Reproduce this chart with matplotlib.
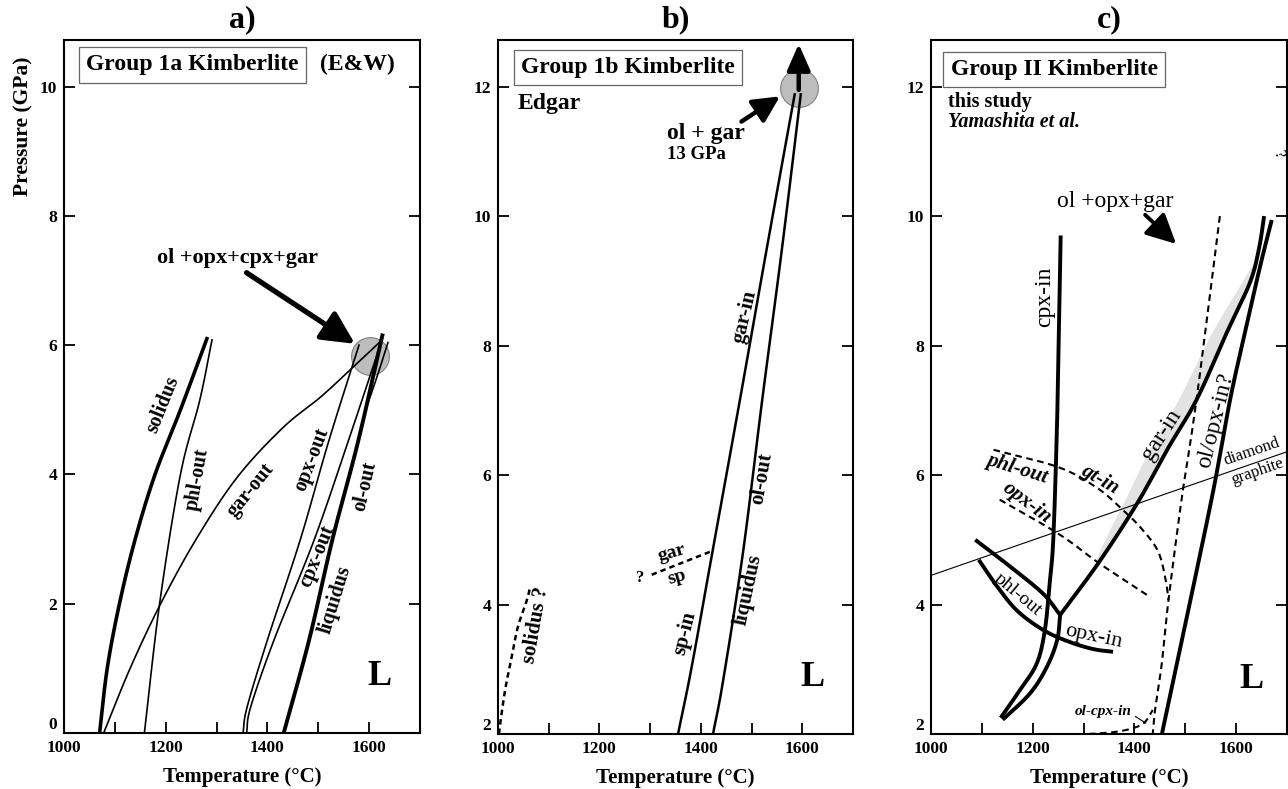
import matplotlib
matplotlib.use('Agg')
import matplotlib.pyplot as plt
import numpy as np
from matplotlib.ticker import FixedLocator

plt.rcParams['font.family'] = ['Liberation Serif', 'DejaVu Serif']
plt.rcParams['font.weight'] = 'bold'

# ---------------- Panel a data (Group 1a, E&W) ----------------
a_solidus_T = [1070, 1085, 1109, 1140, 1179, 1229, 1281]
a_solidus_P = [0, 1, 2, 3, 4, 5, 6.1]
a_phl_T = [1158, 1188, 1229, 1267, 1291]
a_phl_P = [0, 2, 4, 5.15, 6.08]
a_gar_T = [1078, 1130, 1190, 1260, 1340, 1430, 1505, 1567, 1620]
a_gar_P = [0, 1, 2, 3, 3.95, 4.72, 5.2, 5.65, 6.04]
a_opx_T = [1352, 1360, 1400, 1465, 1520, 1580]
a_opx_P = [0, 0.4, 1.44, 3.0, 4.5, 6.0]
a_cpx_T = [1359, 1367, 1413, 1492, 1560, 1626]
a_cpx_P = [0, 0.4, 1.44, 2.99, 4.54, 6.1]
a_liq_T = [1432, 1482, 1528, 1578, 1626]
a_liq_P = [0, 1.44, 3.0, 4.5, 6.15]
a_olout_T = [1593, 1615, 1637]
a_olout_P = [5.0, 5.5, 6.04]
a_circle = (1602, 5.83)

# ---------------- Panel b data (Group 1b, Edgar) ----------------
b_solidus_T = [1002, 1004, 1014, 1027, 1039, 1057, 1063]
b_solidus_P = [2.0, 2.14, 2.68, 3.19, 3.65, 4.07, 4.26]
b_spgar_T = [1355, 1382, 1423, 1477, 1530, 1585]
b_spgar_P = [2.0, 3.04, 4.82, 7.16, 9.5, 11.88]
b_liq_T = [1424, 1444, 1483, 1521, 1560, 1597]
b_liq_P = [2.0, 2.83, 4.8, 7.16, 9.5, 11.88]
b_garsp_T = [1303, 1423]
b_garsp_P = [4.46, 4.83]
b_circle = (1593, 11.98)

# ---------------- Panel c data (Group II, this study) ----------------
c_cpxin_T = [1255, 1249, 1241, 1234, 1224, 1208, 1175, 1137]
c_cpxin_P = [9.7, 7.16, 5.1, 4.38, 3.61, 3.09, 2.68, 2.25]
c_lens_T = [1141, 1195, 1228, 1248, 1254]
c_lens_P = [2.22, 2.63, 3.04, 3.45, 3.84]
c_garin_T = [1254, 1330, 1406, 1465, 1522, 1581, 1627, 1645, 1655]
c_garin_P = [3.84, 4.65, 5.57, 6.4, 7.16, 8.19, 8.97, 9.5, 10.0]
c_olopx_T = [1454, 1485, 1552, 1588, 1617, 1647, 1670]
c_olopx_P = [2.0, 3.14, 5.64, 7.16, 8.19, 9.22, 9.94]
c_phlout_T = [1087, 1155, 1220, 1254]
c_phlout_P = [5.0, 4.59, 4.17, 3.84]
c_opxin_T = [1094, 1130, 1170, 1222, 1273, 1320, 1358]
c_opxin_P = [4.69, 4.28, 3.9, 3.6, 3.42, 3.31, 3.27]
c_diagr_T = [1000, 1700]
c_diagr_P = [4.45, 6.36]
c_dphl_T = [1123, 1251, 1325, 1372, 1412, 1446, 1461, 1467]
c_dphl_P = [6.39, 6.12, 5.81, 5.5, 5.19, 4.83, 4.4, 4.07]
c_dopx_T = [1135, 1251, 1332, 1432]
c_dopx_P = [5.62, 5.09, 4.63, 4.11]
c_dmain_T = [1568, 1522, 1493, 1467, 1454, 1441, 1436]
c_dmain_P = [10.0, 7.16, 5.64, 4.07, 3.1, 2.4, 2.0]
c_dolcpx_T = [1310, 1360, 1397, 1420, 1436]
c_dolcpx_P = [2.0, 2.03, 2.09, 2.18, 2.37]

x_major = [1000, 1200, 1400, 1600]
x_minor = [1100, 1300, 1500]
a_yticks = [0, 2, 4, 6, 8, 10]
bc_yticks = [2, 4, 6, 8, 10, 12]


def smooth(T, P, n=24):
    """Catmull-Rom curve drawn through the read points."""
    pts = np.column_stack([T, P]).astype(float)
    if len(pts) < 3:
        return pts[:, 0], pts[:, 1]
    sc = np.array([700.0, 10.0])
    q = pts / sc
    ext = np.vstack([2 * q[0] - q[1], q, 2 * q[-1] - q[-2]])
    out = []
    t = np.linspace(0, 1, n, endpoint=False)[:, None]
    for i in range(1, len(ext) - 2):
        p0, p1, p2, p3 = ext[i - 1], ext[i], ext[i + 1], ext[i + 2]
        seg = 0.5 * ((2 * p1) + (-p0 + p2) * t + (2 * p0 - 5 * p1 + 4 * p2 - p3) * t ** 2
                     + (-p0 + 3 * p1 - 3 * p2 + p3) * t ** 3)
        out.append(seg)
    out.append(q[-1][None, :])
    out = np.vstack(out) * sc
    return out[:, 0], out[:, 1]


fig = plt.figure(figsize=(12.88, 7.89), dpi=100)
axa = fig.add_axes([64/1288, 1-733/789, 356/1288, 693/789])
axb = fig.add_axes([498/1288, 1-734/789, 355/1288, 694/789])
axc = fig.add_axes([931/1288, 1-734/789, 356/1288, 694/789])

for ax, yt, ylim, ttl, Lpos in [(axa, a_yticks, (0, 10.72), 'a)', (0.885, 0.082)),
                                (axb, bc_yticks, (2, 12.72), 'b)', (0.887, 0.082)),
                                (axc, bc_yticks, (2, 12.72), 'c)', (0.9, 0.078))]:
    ax.set_xlim(1000, 1700)
    ax.set_ylim(*ylim)
    ax.set_xticks(x_major)
    ax.xaxis.set_minor_locator(FixedLocator(x_minor))
    ax.set_yticks(yt)
    ax.tick_params(which='both', direction='in', length=8, width=1.3,
                   labelsize=12.5, right=True, top=False, pad=5)
    for lab_ in ax.get_xticklabels() + ax.get_yticklabels():
        lab_.set_fontweight('bold')
    # bottom pressure label sits just above the corner, as in the original
    ax.yaxis.get_major_ticks()[0].label1.set_verticalalignment('bottom')
    for s in ax.spines.values():
        s.set_linewidth(1.5)
    ax.set_xlabel('Temperature (°C)', fontsize=15, fontweight='bold', labelpad=8)
    ax.text(0.5, 1.008, ttl, transform=ax.transAxes, ha='center', va='bottom',
            fontsize=23, fontweight='bold')
    ax.text(Lpos[0], Lpos[1], 'L', transform=ax.transAxes,
            ha='center', va='center', fontsize=26, fontweight='bold')

axa.text(-0.115, 0.875, 'Pressure (GPa)', transform=axa.transAxes, rotation=90,
         ha='center', va='center', fontsize=15.5, fontweight='bold')

box = dict(boxstyle='square,pad=0.3', fc='white', ec='#666666', lw=0.9)


def lab(ax, T, P, s, rot, size=14.5, style='normal', weight='bold'):
    ax.text(T, P, s, rotation=rot, rotation_mode='anchor', ha='center',
            va='center', fontsize=size, fontstyle=style, fontweight=weight)


def arrow(ax, start, end, lw=3.5, hl=0.8, hw=0.4, ms=20):
    ax.annotate('', xy=end, xytext=start,
                arrowprops=dict(arrowstyle=f'-|>,head_length={hl},head_width={hw}',
                                lw=lw, color='black', mutation_scale=ms,
                                shrinkA=0, shrinkB=0))


def curve(ax, T, P, **kw):
    x, y = smooth(T, P)
    ax.plot(x, y, color='black', **kw)


# ---------------- Panel a ----------------
ax = axa
ax.scatter([a_circle[0]], [a_circle[1]], s=740, c='#bdbdbd', edgecolors='#808080',
           linewidths=0.8, zorder=1)
curve(ax, a_solidus_T, a_solidus_P, lw=2.6, zorder=3)
curve(ax, a_phl_T, a_phl_P, lw=1.2, zorder=3)
curve(ax, a_gar_T, a_gar_P, lw=1.2, zorder=3)
curve(ax, a_opx_T, a_opx_P, lw=1.2, zorder=3)
curve(ax, a_cpx_T, a_cpx_P, lw=1.2, zorder=3)
curve(ax, a_liq_T, a_liq_P, lw=2.8, zorder=3)
curve(ax, a_olout_T, a_olout_P, lw=1.2, zorder=3)
ax.text(0.062, 0.964, 'Group 1a Kimberlite', transform=ax.transAxes, ha='left',
        va='center', fontsize=17, fontweight='bold', bbox=box)
ax.text(0.825, 0.964, '(E&W)', transform=ax.transAxes, ha='center', va='center',
        fontsize=17, fontweight='bold')
ax.text(1341, 7.35, 'ol +opx+cpx+gar', ha='center', va='center', fontsize=16,
        fontweight='bold')
arrow(ax, (1359, 7.12), (1572, 6.02), lw=3.8, hl=0.9, hw=0.45, ms=22)
lab(ax, 1195, 5.08, 'solidus', 68)
lab(ax, 1262, 3.92, 'phl-out', 80)
lab(ax, 1367, 3.76, 'gar-out', 51)
lab(ax, 1488, 4.23, 'opx-out', 69)
lab(ax, 1498, 2.73, 'cpx-out', 68)
lab(ax, 1534, 2.06, 'liquidus', 73)
lab(ax, 1592, 3.81, 'ol-out', 77)

# ---------------- Panel b ----------------
ax = axb
ax.scatter([b_circle[0]], [b_circle[1]], s=740, c='#bdbdbd', edgecolors='#808080',
           linewidths=0.8, zorder=1)
curve(ax, b_solidus_T, b_solidus_P, lw=1.8, ls=(0, (2.2, 1.6)), zorder=3)
curve(ax, b_spgar_T, b_spgar_P, lw=1.8, zorder=3)
curve(ax, b_liq_T, b_liq_P, lw=1.8, zorder=3)
curve(ax, b_garsp_T, b_garsp_P, lw=1.8, ls=(0, (2.2, 1.6)), zorder=3)
ax.text(0.064, 0.96, 'Group 1b Kimberlite', transform=ax.transAxes, ha='left',
        va='center', fontsize=17, fontweight='bold', bbox=box)
ax.text(0.056, 0.909, 'Edgar', transform=ax.transAxes, ha='left', va='center',
        fontsize=17, fontweight='bold')
ax.text(1333, 11.27, 'ol + gar', ha='left', va='center', fontsize=17, fontweight='bold')
ax.text(1333, 10.95, '13 GPa', ha='left', va='center', fontsize=13.5, fontweight='bold')
arrow(ax, (1480, 11.46), (1556, 11.85), lw=3.2, hl=0.8, hw=0.4, ms=20)
arrow(ax, (1593, 11.95), (1593, 12.66), lw=3.2, hl=0.8, hw=0.35, ms=20)
lab(ax, 1487, 8.44, 'gar-in', 77, size=15)
lab(ax, 1369, 3.56, 'sp-in', 76, size=15)
lab(ax, 1520, 5.95, 'ol-out', 80, size=15)
lab(ax, 1494, 4.23, 'liquidus', 78, size=15)
lab(ax, 1075, 3.68, 'solidus ?', 80, size=15)
lab(ax, 1343, 4.79, 'gar', 16, size=14)
lab(ax, 1353, 4.42, 'sp', 16, size=14)
lab(ax, 1280, 4.41, '?', 0, size=12)

# ---------------- Panel c ----------------
ax = axc
Pband = np.linspace(4.6, 9.3, 60)
gx, gy = smooth(c_garin_T, c_garin_P)
Tband = np.interp(Pband, gy, gx)
wband = 36 * np.clip(np.sin(np.pi * (Pband - 4.6) / 4.7), 0, 1) ** 0.5
ax.fill_betweenx(Pband, Tband - wband, Tband, color='#e2e2e2', lw=0, zorder=1)
ax.plot(c_diagr_T, c_diagr_P, color='black', lw=0.8, zorder=2)
dash = (0, (3.2, 2.2))
curve(ax, c_dphl_T, c_dphl_P, lw=1.5, ls=dash, zorder=2)
curve(ax, c_dopx_T, c_dopx_P, lw=1.5, ls=dash, zorder=2)
curve(ax, c_dmain_T, c_dmain_P, lw=1.5, ls=dash, zorder=2)
curve(ax, c_dolcpx_T, c_dolcpx_P, lw=1.5, ls=dash, zorder=2)
for T, P in [(c_cpxin_T, c_cpxin_P), (c_lens_T, c_lens_P), (c_garin_T, c_garin_P),
             (c_olopx_T, c_olopx_P), (c_phlout_T, c_phlout_P), (c_opxin_T, c_opxin_P)]:
    curve(ax, T, P, lw=2.8, zorder=3, solid_capstyle='butt')
ax.text(0.055, 0.957, 'Group II Kimberlite', transform=ax.transAxes, ha='left',
        va='center', fontsize=17, fontweight='bold', bbox=box)
ax.text(0.048, 0.911, 'this study', transform=ax.transAxes, ha='left', va='center',
        fontsize=14.5, fontweight='bold')
ax.text(0.048, 0.882, 'Yamashita et al.', transform=ax.transAxes, ha='left',
        va='center', fontsize=14.5, fontweight='bold', fontstyle='italic')
ax.text(1248, 10.22, 'ol +opx+gar', ha='left', va='center', fontsize=17,
        fontweight='normal')
arrow(ax, (1421, 10.02), (1482, 9.57), lw=2.8, hl=0.9, hw=0.45, ms=20)
lab(ax, 1224, 8.76, 'cpx-in', 90, size=17, weight='normal')
lab(ax, 1454, 6.62, 'gar-in', 57, size=17, weight='normal')
lab(ax, 1560, 6.84, 'ol/opx-in?', 76, size=17, weight='normal')
lab(ax, 1170, 4.16, 'phl-out', -40, size=14, weight='normal')
lab(ax, 1319, 3.5, 'opx-in', -12, size=16, weight='normal')
lab(ax, 1169, 6.1, 'phl-out', -17, size=15, style='italic')
lab(ax, 1333, 5.93, 'gt-in', -30, size=15, style='italic')
lab(ax, 1188, 5.57, 'opx-in', -37, size=15, style='italic')
lab(ax, 1631, 6.36, 'diamond', 19, size=12, weight='normal')
lab(ax, 1641, 6.05, 'graphite', 19, size=12, weight='normal')
ax.text(1395, 2.34, 'ol-cpx-in', ha='right', va='center', fontsize=11,
        fontweight='bold', fontstyle='italic')
ax.plot([1402, 1422], [2.27, 2.17], color='black', lw=0.8)
lab(ax, 1683, 10.95, '?', -70, size=12, weight='normal')

fig.savefig('out.png', dpi=100)
